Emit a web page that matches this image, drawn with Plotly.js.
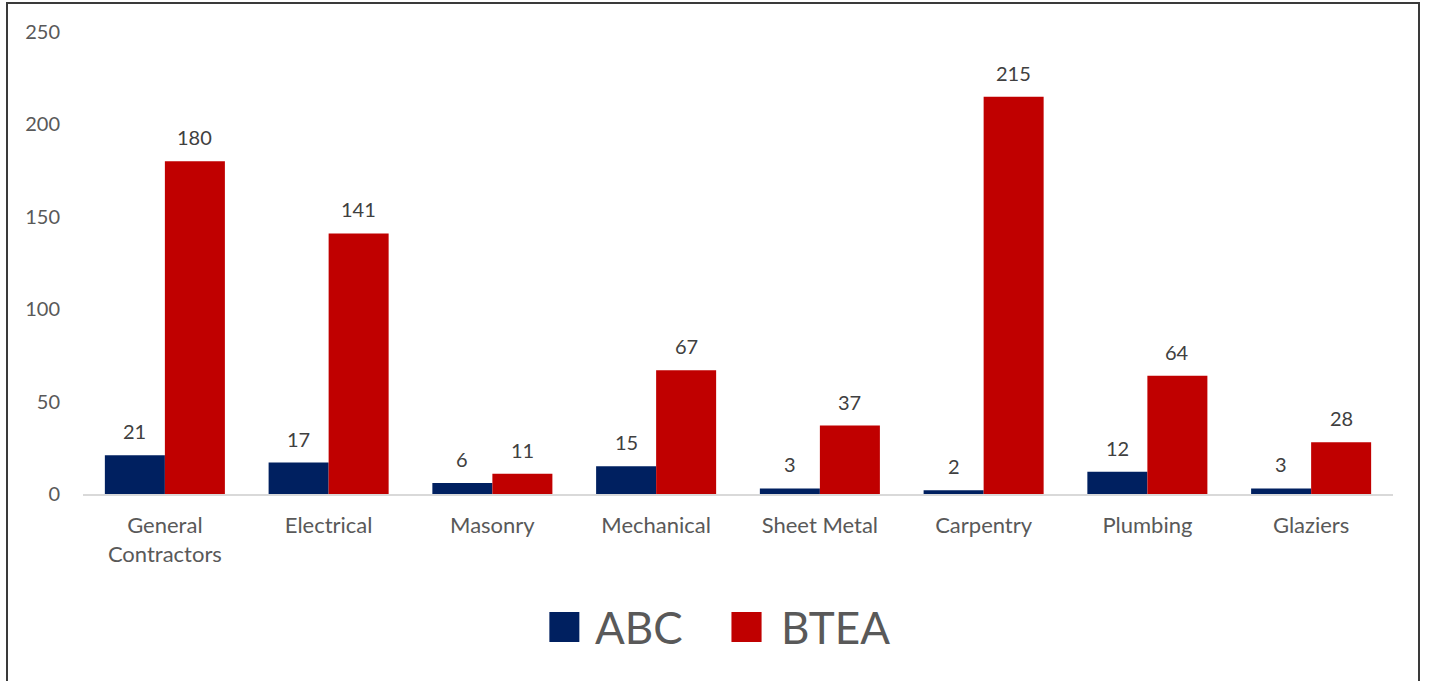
<!DOCTYPE html>
<html>
<head>
<meta charset="utf-8">
<script src="https://cdn.plot.ly/plotly-3.0.1.min.js"></script>
<style>
html,body{margin:0;padding:0;background:#fff;}
#chart{width:1429px;height:681px;position:absolute;left:0;top:0;}
#frame{position:absolute;left:6px;top:2px;width:1414px;height:700px;border:2px solid #3a3a3a;box-sizing:border-box;pointer-events:none;}
</style>
</head>
<body>
<div id="chart"></div>
<div id="frame"></div>
<script>
const categories = ["General<br>Contractors","Electrical","Masonry","Mechanical","Sheet Metal","Carpentry","Plumbing","Glaziers"];
const abcValues = [21,17,6,15,3,2,12,3];
const bteaValues = [180,141,11,67,37,215,64,28];
const seriesNames = ["ABC","BTEA"];
const seriesColors = ["#002060","#C00000"];
const yTicks = [0,50,100,150,200,250];

const FONT = "Lato, 'Open Sans', sans-serif";
const series = [abcValues, bteaValues];

const traces = series.map((vals,i)=>({
  type:'bar', x:categories, y:vals, name:seriesNames[i],
  marker:{color:seriesColors[i]}, showlegend:false, hoverinfo:'x+y'
}));

const annotations = [];
series.forEach((vals,i)=>{
  vals.forEach((v,j)=>{
    annotations.push({x:categories[j], y:v, xref:'x', yref:'y', text:String(v),
      showarrow:false, yanchor:'bottom', xshift:(i===0?-30:30), yshift:10,
      font:{family:FONT,size:20,color:'#404040'}});
  });
});

// legend (manual, large)
const shapes = [];
const legendX = [[0.356,0.3789,0.3896],[0.495,0.518,0.531]];
seriesNames.forEach((n,i)=>{
  shapes.push({type:'rect',xref:'paper',yref:'paper',x0:legendX[i][0],x1:legendX[i][1],y0:-0.3203,y1:-0.2554,
    fillcolor:seriesColors[i],line:{width:0}});
  annotations.push({xref:'paper',yref:'paper',x:legendX[i][2],y:-0.2879,xanchor:'left',yanchor:'middle',
    text:n,showarrow:false,font:{family:FONT,size:44,color:'#595959'}});
});

const layout = {
  width:1429, height:681,
  margin:{l:83,r:36,t:32,b:187,pad:0},
  paper_bgcolor:'#ffffff', plot_bgcolor:'#ffffff',
  barmode:'group', bargap:0.267, bargroupgap:0,
  showlegend:false,
  font:{family:FONT,color:'#595959'},
  xaxis:{showgrid:false, showline:true, linecolor:'#d9d9d9', linewidth:2, ticks:'',
    tickfont:{family:FONT,size:22,color:'#595959'}, ticklabelstandoff:11, zeroline:false, fixedrange:true},
  yaxis:{range:[0,250], tickvals:yTicks, showgrid:false, showline:false, zeroline:false, ticks:'',
    tickfont:{family:FONT,size:20,color:'#595959'}, ticklabelstandoff:22, fixedrange:true},
  annotations:annotations, shapes:shapes
};

Plotly.newPlot('chart', traces, layout, {displayModeBar:false, staticPlot:true});
</script>
</body>
</html>
